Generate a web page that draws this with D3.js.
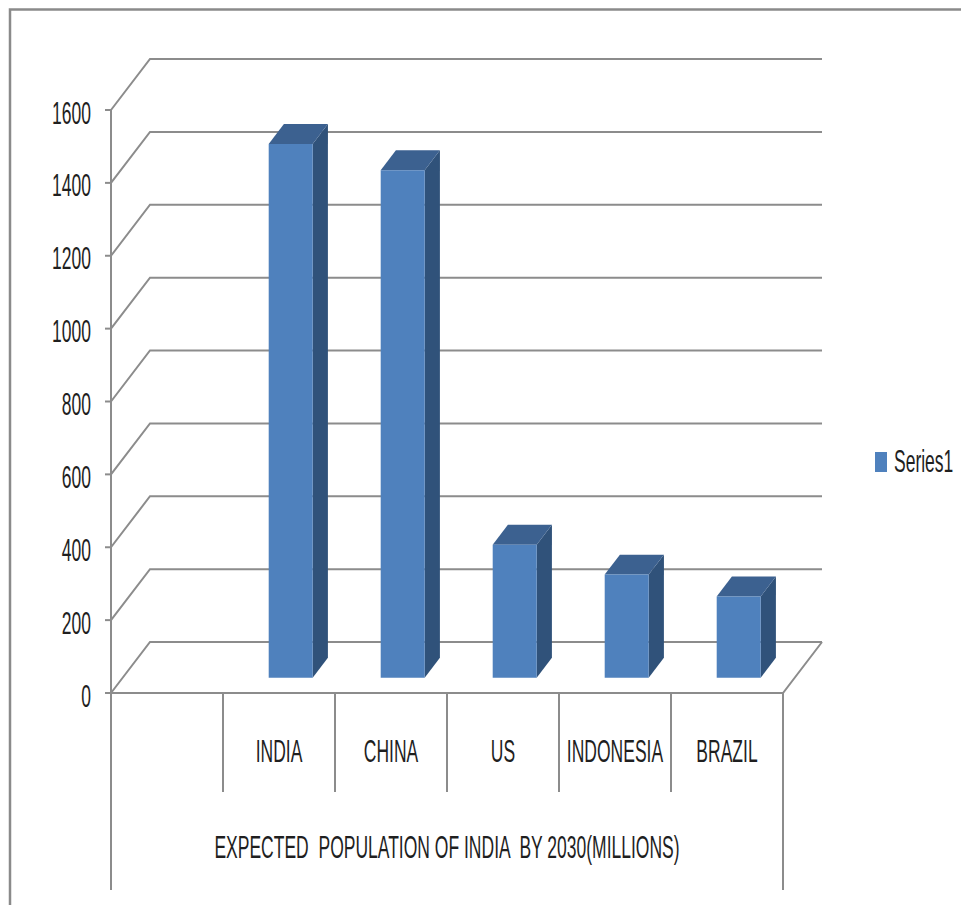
<!DOCTYPE html>
<html>
<head>
<meta charset="utf-8">
<script src="https://cdn.jsdelivr.net/npm/d3@7"></script>
<style>
  html, body { margin: 0; padding: 0; background: #fff; }
  svg { display: block; }
  text { font-family: "Liberation Sans", Arial, sans-serif; fill: #1f1f1f; white-space: pre; }
</style>
</head>
<body>
<svg id="chart" width="961" height="905"></svg>
<script>
// ---- data ----
const categories = ["", "INDIA", "CHINA", "US", "INDONESIA", "BRAZIL"];
const values = [null, 1465, 1393, 365, 283, 223];
const yTicks = [0, 200, 400, 600, 800, 1000, 1200, 1400, 1600];
const groupLabel = "EXPECTED  POPULATION OF INDIA  BY 2030(MILLIONS)";
const seriesName = "Series1";

// ---- layout ----
const svg = d3.select("#chart");
const W = 961, H = 905;
const DX = 39, DY = 51;           // depth projection offset
const fontSize = 31, sx = 0.565;  // condensed text look

const x = d3.scaleBand().domain(d3.range(categories.length)).range([111, 783]).padding(0);
const y = d3.scaleLinear().domain([0, 1600]).range([693, 110]);
const P = (px, v, z) => [px + z * DX, y(v) - z * DY];

const gridColor = "#8c8c8c";

// outer frame
svg.append("path")
  .attr("d", `M10,${H} L10,9.5 L${W},9.5`)
  .attr("fill", "none").attr("stroke", "#8a8a8a").attr("stroke-width", 2.5);

const x0 = x.range()[0], x1 = x.range()[1];

// wall gridlines
const grid = svg.append("g").attr("fill", "none").attr("stroke", gridColor).attr("stroke-width", 2);
yTicks.forEach(t => {
  const a = P(x0, t, 0), b = P(x0, t, 1), c = P(x1, t, 1);
  grid.append("path").attr("d", `M${a}L${b}L${c}`);
});
// floor front and right edge
{
  const a = P(x0, 0, 0), b = P(x1, 0, 0), c = P(x1, 0, 1);
  grid.append("path").attr("d", `M${a}L${b}L${c}`);
}
// value axis line + ticks
grid.append("line").attr("x1", x0).attr("x2", x0).attr("y1", y(1600)).attr("y2", 890);
yTicks.forEach(t => {
  grid.append("line").attr("x1", x0 - 6).attr("x2", x0).attr("y1", y(t)).attr("y2", y(t));
});
// category dividers
categories.forEach((c, i) => {
  if (i === 0) return;
  const xx = x(i);
  grid.append("line").attr("x1", xx).attr("x2", xx).attr("y1", y(0)).attr("y2", 792);
});
grid.append("line").attr("x1", x1).attr("x2", x1).attr("y1", y(0)).attr("y2", 890);

// bars
const zF = 0.3, zB = 0.69, barW = 44;
const bars = svg.append("g");
categories.forEach((c, i) => {
  const v = values[i];
  if (v == null) return;
  const cx = x(i) + x.bandwidth() / 2;
  const bl = cx - barW / 2, br = cx + barW / 2;
  const f = [P(bl, 0, zF), P(br, 0, zF), P(br, v, zF), P(bl, v, zF)];
  const side = [P(br, 0, zF), P(br, 0, zB), P(br, v, zB), P(br, v, zF)];
  const top = [P(bl, v, zF), P(br, v, zF), P(br, v, zB), P(bl, v, zB)];
  const poly = pts => "M" + pts.map(p => p.join(",")).join("L") + "Z";
  bars.append("path").attr("d", poly(side)).attr("fill", "#30527a");
  bars.append("path").attr("d", poly(top)).attr("fill", "#3c6190");
  bars.append("path").attr("d", poly(f)).attr("fill", "#4f81bd");
});

// text helper
function label(px, py, str, anchor) {
  return svg.append("text")
    .attr("transform", `translate(${px},${py}) scale(${sx},1)`)
    .attr("text-anchor", anchor)
    .attr("font-size", fontSize)
    .text(str);
}

// y tick labels
yTicks.forEach(t => label(91, y(t) + 13.5, String(t), "end"));

// category labels
categories.forEach((c, i) => {
  if (!c) return;
  label(x(i) + x.bandwidth() / 2, 762, c, "middle");
});

// group label
label((x0 + x1) / 2, 858, groupLabel, "middle");

// legend
svg.append("rect").attr("x", 875).attr("y", 452).attr("width", 12).attr("height", 20).attr("fill", "#4f81bd");
label(894, 472, seriesName, "start");
</script>
</body>
</html>
